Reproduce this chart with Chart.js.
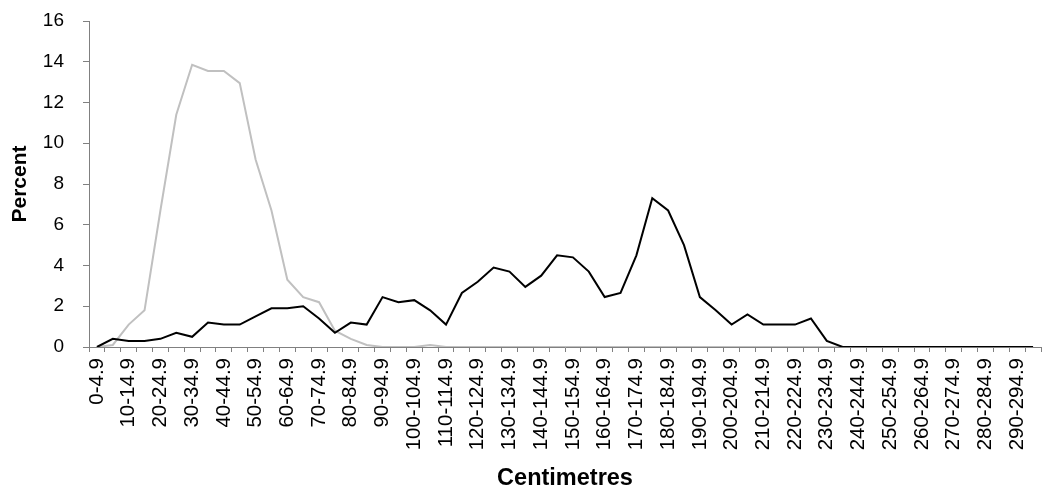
<!DOCTYPE html>
<html>
<head>
<meta charset="utf-8">
<script src="https://cdn.jsdelivr.net/npm/chart.js@4"></script>
<style>
  html, body { margin: 0; padding: 0; background: #fff; }
  #wrap { width: 1043px; height: 496px; position: relative; }
</style>
</head>
<body>
<div id="wrap"><canvas id="chart"></canvas></div>
<script>
// size classes, 5 cm wide
const categories = [
  '0-4.9', '5-9.9', '10-14.9', '15-19.9', '20-24.9', '25-29.9', '30-34.9', '35-39.9', '40-44.9', '45-49.9',
  '50-54.9', '55-59.9', '60-64.9', '65-69.9', '70-74.9', '75-79.9', '80-84.9', '85-89.9', '90-94.9', '95-99.9',
  '100-104.9', '105-109.9', '110-114.9', '115-119.9', '120-124.9', '125-129.9', '130-134.9', '135-139.9', '140-144.9', '145-149.9',
  '150-154.9', '155-159.9', '160-164.9', '165-169.9', '170-174.9', '175-179.9', '180-184.9', '185-189.9', '190-194.9', '195-199.9',
  '200-204.9', '205-209.9', '210-214.9', '215-219.9', '220-224.9', '225-229.9', '230-234.9', '235-239.9', '240-244.9', '245-249.9',
  '250-254.9', '255-259.9', '260-264.9', '265-269.9', '270-274.9', '275-279.9', '280-284.9', '285-289.9', '290-294.9', '295-299.9'
];

// black line
const blackSeries = [
  0, 0.4, 0.3, 0.3, 0.4, 0.7, 0.5, 1.2, 1.1, 1.1,
  1.5, 1.9, 1.9, 2.0, 1.4, 0.7, 1.2, 1.1, 2.45, 2.2,
  2.3, 1.8, 1.1, 2.65, 3.2, 3.9, 3.7, 2.95, 3.5, 4.5,
  4.4, 3.7, 2.45, 2.65, 4.5, 7.3, 6.7, 5.0, 2.45, 1.8,
  1.1, 1.6, 1.1, 1.1, 1.1, 1.4, 0.3, 0, 0, 0,
  0, 0, 0, 0, 0, 0, 0, 0, 0, 0
];

// grey line
const greySeries = [
  0, 0.1, 1.1, 1.8, 6.7, 11.4, 13.85, 13.55, 13.55, 12.95,
  9.2, 6.7, 3.3, 2.45, 2.2, 0.8, 0.4, 0.1, 0, 0,
  0, 0.1, 0, 0, 0, 0, 0, 0, 0, 0,
  0, 0, 0, 0, 0, 0, 0, 0, 0, 0,
  0, 0, 0, 0, 0, 0, 0, 0, 0, 0,
  0, 0, 0, 0, 0, 0, 0, 0, 0, 0
];

const yTicks = [0, 2, 4, 6, 8, 10, 12, 14, 16];

const FONT = "'Liberation Sans', Arial, sans-serif";
const axisGrey = '#808080';

new Chart(document.getElementById('chart'), {
  type: 'line',
  data: {
    labels: categories,
    datasets: [
      { label: 'Black', data: blackSeries, borderColor: '#000000', borderWidth: 2, pointRadius: 0, tension: 0, order: 0 },
      { label: 'Grey', data: greySeries, borderColor: '#c0c0c0', borderWidth: 2, pointRadius: 0, tension: 0, order: 1 }
    ]
  },
  options: {
    responsive: true,
    maintainAspectRatio: false,
    animation: false,
    layout: { padding: { top: 21, right: 2, bottom: 3, left: 8 } },
    plugins: { legend: { display: false }, tooltip: { enabled: false } },
    scales: {
      x: {
        offset: true,
        grid: { offset: true, drawOnChartArea: false, tickLength: 5, color: axisGrey },
        border: { color: axisGrey },
        ticks: {
          autoSkip: false,
          minRotation: 90,
          maxRotation: 90,
          padding: 6,
          color: '#000',
          font: { family: FONT, size: 20.5 },
          callback: function(v, i) { return i % 2 === 0 ? categories[i] : ''; }
        },
        title: { display: true, text: 'Centimetres', color: '#000', font: { family: FONT, size: 23.5, weight: 'bold' }, padding: { top: 0, bottom: 0 } },
        afterFit: function(scale) {
          scale.height = 496 - 347 - 3;
          scale.paddingLeft = 0;
          scale.paddingRight = 0;
        }
      },
      y: {
        min: 0,
        max: 16,
        afterBuildTicks: function(scale) { scale.ticks = yTicks.map(v => ({ value: v })); },
        grid: { drawOnChartArea: false, tickLength: 6, color: axisGrey },
        border: { color: axisGrey },
        ticks: { padding: 19, color: '#000', font: { family: FONT, size: 19 } },
        title: { display: true, text: 'Percent', color: '#000', font: { family: FONT, size: 21, weight: 'bold' }, padding: { top: 0, bottom: 0 } },
        afterFit: function(scale) {
          scale.width = 89 - 8;
          scale.paddingTop = 0;
          scale.paddingBottom = 0;
        }
      }
    }
  }
});
</script>
</body>
</html>
